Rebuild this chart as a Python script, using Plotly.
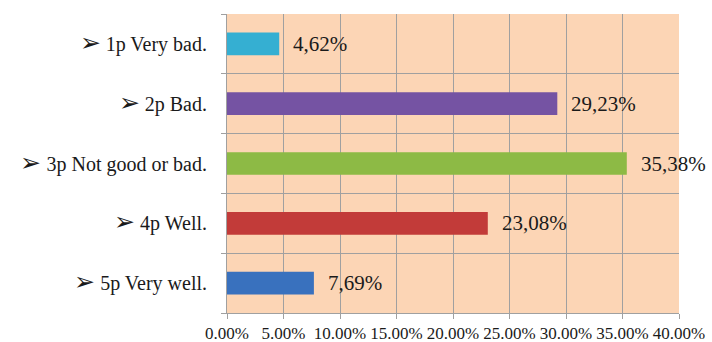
import plotly.graph_objects as go

# Survey answers and their share of respondents (%)
categories = ["1p Very bad.", "2p Bad.", "3p Not good or bad.",
              "4p Well.", "5p Very well."]
shares = [4.62, 29.23, 35.38, 23.08, 7.69]
bar_colors = ["#35AFD2", "#7553A3", "#8DBA45", "#C23B39", "#3971BE"]
tick_values = [0, 5, 10, 15, 20, 25, 30, 35, 40]
tick_labels = ["0.00%", "5.00%", "10.00%", "15.00%", "20.00%",
               "25.00%", "30.00%", "35.00%", "40.00%"]

serif = "Liberation Serif, Times New Roman, serif"

fig = go.Figure()
fig.add_trace(go.Bar(
    x=shares,
    y=categories,
    orientation="h",
    width=0.38,
    marker=dict(color=bar_colors, line=dict(width=0)),
    hoverinfo="skip",
))

# value labels with a decimal comma, placed just past each bar end
for cat, val in zip(categories, shares):
    fig.add_annotation(
        x=val, y=cat, text=f"{val:.2f}%".replace(".", ","),
        xanchor="left", xshift=12, showarrow=False,
        font=dict(family=serif, size=21, color="#1a1a1a"),
    )

# bullet-style category labels with a larger arrow glyph
bullet_labels = [f"<span style='font-size:25px'>➢</span> {c}" for c in categories]

fig.update_layout(
    width=712, height=342,
    margin=dict(l=227, r=33, t=14, b=29),
    paper_bgcolor="white",
    plot_bgcolor="#FCD5B5",
    showlegend=False,
    font=dict(family=serif, size=17, color="#1a1a1a"),
)
fig.update_xaxes(
    range=[0, 40], tickvals=tick_values, ticktext=tick_labels,
    showgrid=True, gridcolor="#A0A0A0", gridwidth=1,
    zeroline=False, showline=True, linecolor="#A0A0A0",
    ticks="outside", ticklen=5, tickcolor="#A0A0A0",
    tickfont=dict(family=serif, size=17, color="#1a1a1a"),
    automargin=False, fixedrange=True,
)
fig.update_yaxes(
    autorange="reversed", tickson="boundaries",
    tickmode="array", tickvals=categories, ticktext=bullet_labels,
    showgrid=True, gridcolor="#A0A0A0", gridwidth=1,
    showline=True, linecolor="#A0A0A0",
    ticks="outside", ticklen=5, tickcolor="#A0A0A0",
    ticklabelstandoff=15,
    tickfont=dict(family=serif, size=20, color="#1a1a1a"),
    automargin=False, fixedrange=True,
)

fig.write_html("out.html")
